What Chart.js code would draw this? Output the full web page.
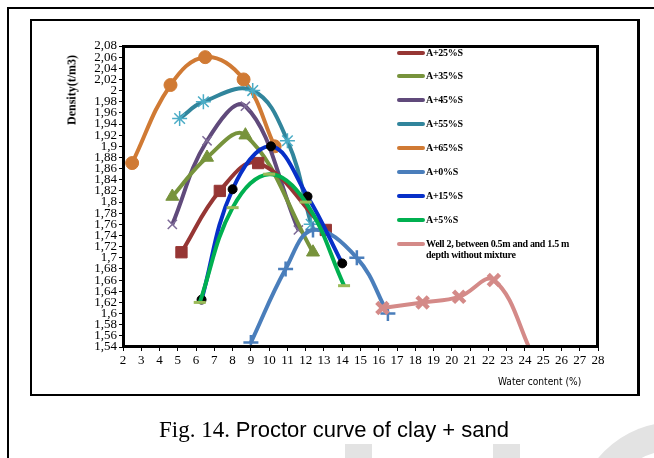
<!DOCTYPE html>
<html><head><meta charset="utf-8">
<script src="https://cdn.jsdelivr.net/npm/chart.js@4/dist/chart.umd.min.js"></script>
<style>
html,body{margin:0;padding:0;background:#fff;width:654px;height:458px;overflow:hidden;position:relative;font-family:'Liberation Serif',serif}
#c{position:absolute;left:0;top:0}
.abs{position:absolute}
#outer{left:7px;top:7px;width:660px;height:470px;border-left:2px solid #000;border-top:2px solid #000}
#box{left:30px;top:19px;width:605px;height:373px;border:2px solid #000;border-right:3px solid #000}
#frame{left:122px;top:45px;width:471px;height:297px;border:3px solid #000}
#ytitle{left:72px;top:90px;transform:translate(-50%,-50%) rotate(-90deg);font:bold 12px 'Liberation Serif',serif;white-space:nowrap}
#xtitle{left:498px;top:375px;font:11px 'DejaVu Sans Condensed','Liberation Sans',sans-serif;white-space:nowrap;transform:scaleX(0.92);transform-origin:left}
#legend{left:397px;top:45px;font:bold 10px 'Liberation Serif',serif;letter-spacing:-0.3px}
.li{position:absolute;left:0;white-space:nowrap;line-height:11px}
.sw{display:inline-block;width:28px;height:4px;border-radius:2px;vertical-align:middle;margin-right:1px;position:relative;top:-1px}
#cap{left:0;width:668px;top:417px;text-align:center;white-space:nowrap}
#cap .a{font:23px 'Liberation Serif',serif}
#cap .b{font:22px 'Liberation Sans',sans-serif}
.wm{background:#e3e3e3}
</style></head><body>
<div class="abs" id="outer"></div>
<div class="abs" id="box"></div>
<canvas id="c" width="654" height="458"></canvas>
<div class="abs" id="frame"></div>
<div class="abs" id="ytitle">Density(t/m3)</div>
<div class="abs" id="xtitle">Water content (%)</div>
<div class="abs" id="legend"></div>
<div class="abs" id="cap"><span class="a">Fig. 14. </span><span class="b">Proctor curve of clay + sand</span></div>
<div class="abs wm" style="left:345px;top:444px;width:27px;height:14px"></div>
<div class="abs wm" style="left:493px;top:444px;width:27px;height:14px"></div>
<div class="abs" style="left:575px;top:422px;width:200px;height:200px;border-radius:50%;border:28px solid #e3e3e3;box-sizing:border-box"></div>
<script>
// ---- data ----
const seriesNames = ['A+25%S','A+35%S','A+45%S','A+55%S','A+65%S','A+0%S','A+15%S','A+5%S','Well 2, between 0.5m and and 1.5 m depth without mixture'];
const water25 = [5.2, 7.3, 9.4, 13.1];
const dens25  = [1.71, 1.82, 1.87, 1.75];
const water35 = [4.7, 6.6, 8.7, 12.4];
const dens35  = [1.81, 1.88, 1.92, 1.71];
const water45 = [4.7, 6.6, 8.7, 11.6];
const dens45  = [1.76, 1.91, 1.972, 1.75];
const water55 = [5.1, 6.4, 9.1, 11.0, 12.3];
const dens55  = [1.95, 1.98, 2.0, 1.91, 1.76];
const water65 = [2.5, 4.6, 6.5, 8.6, 10.3];
const dens65  = [1.87, 2.01, 2.06, 2.02, 1.90];
const water0  = [9.0, 10.9, 12.4, 14.8, 16.5];
const dens0   = [1.548, 1.68, 1.75, 1.70, 1.60];
const water15 = [6.3, 8.0, 10.1, 12.1, 14.0];
const dens15  = [1.625, 1.823, 1.90, 1.81, 1.69];
const water5  = [6.2, 8.0, 10.0, 12.0, 14.1];
const dens5   = [1.62, 1.79, 1.85, 1.80, 1.65];
const waterWell = [16.2, 18.4, 20.4, 22.3, 24.5];
const densWell  = [1.61, 1.62, 1.63, 1.66, 1.52];
const xTicks = [2,3,4,5,6,7,8,9,10,11,12,13,14,15,16,17,18,19,20,21,22,23,24,25,26,27,28];
const yTicks = [1.54,1.56,1.58,1.6,1.62,1.64,1.66,1.68,1.7,1.72,1.74,1.76,1.78,1.8,1.82,1.84,1.86,1.88,1.9,1.92,1.94,1.96,1.98,2,2.02,2.04,2.06,2.08];

const allX = [water25,water35,water45,water55,water65,water0,water15,water5,waterWell];
const allY = [dens25,dens35,dens45,dens55,dens65,dens0,dens15,dens5,densWell];
const colors = ['#963634','#77933C','#604A7B','#31859C','#D07A34','#4A7EBB','#0730C8','#00B050','#D48A88'];
const markers = [
 {pointStyle:'rect',r:8,bg:'#963634',bc:'#963634',bw:1},
 {pointStyle:'triangle',r:7.5,bg:'#77933C',bc:'#77933C',bw:1},
 {pointStyle:'crossRot',r:6.5,bg:'#604A7B',bc:'#7D6A97',bw:1.5},
 {pointStyle:'star',r:7.5,bg:'#31859C',bc:'#4BACC6',bw:1.5},
 {pointStyle:'circle',r:6.5,bg:'#D07A34',bc:'#D07A34',bw:1},
 {pointStyle:'cross',r:7.5,bg:'#4A7EBB',bc:'#4A7EBB',bw:2.5},
 {pointStyle:'circle',r:4.5,bg:'#000',bc:'#000',bw:1},
 {pointStyle:'line',r:6,bg:'#9BBB59',bc:'#9BBB59',bw:3},
 {pointStyle:'crossRot',r:8,bg:'#D48A88',bc:'#D48A88',bw:4.5}
];
const drawOrder = [5,6,7,8,9,4,2,1,3]; // higher = drawn first (below)

const datasets = seriesNames.map((n,i)=>({
  label:n,
  data: allX[i].map((x,j)=>({x:x,y:allY[i][j]})),
  borderColor:colors[i], borderWidth:4, tension:0.4,
  showLine:true, fill:false,
  pointStyle:markers[i].pointStyle, pointRadius:markers[i].r,
  pointBackgroundColor:markers[i].bg, pointBorderColor:markers[i].bc,
  pointBorderWidth:markers[i].bw, order:drawOrder[i]
}));

// legend
const lg = document.getElementById('legend');
const legendTops = [2,25,49,73,97,121,145,169,193];
seriesNames.forEach((n,i)=>{
  const d = document.createElement('div'); d.className='li'; d.style.top=legendTops[i]+'px';
  if(i===8){
    d.innerHTML='<span class="sw" style="background:'+colors[i]+'"></span>Well 2, between 0.5m and and 1.5 m<br><span style="display:inline-block;width:29px"></span>depth without mixture';
  } else {
    d.innerHTML='<span class="sw" style="background:'+colors[i]+'"></span>'+n;
  }
  lg.appendChild(d);
});

const fmt = v => { let s=(Math.round(v*100)/100).toFixed(2).replace(/0+$/,'').replace(/\.$/,''); return s.replace('.',','); };

new Chart(document.getElementById('c'),{
  type:'scatter',
  data:{datasets},
  options:{
    responsive:false, animation:false, devicePixelRatio:1,
    layout:{padding:{left:73,top:46,right:56,bottom:71}},
    plugins:{legend:{display:false},tooltip:{enabled:false}},
    scales:{
      x:{type:'linear',min:2,max:28,
        afterBuildTicks:s=>{s.ticks=xTicks.map(v=>({value:v}));},
        afterFit:s=>{s.height=40;},
        grid:{drawOnChartArea:false,drawTicks:true,tickLength:4,color:'#000',lineWidth:1},
        border:{display:false},
        ticks:{color:'#000',font:{family:'Liberation Serif',size:13},padding:2,maxRotation:0,autoSkip:false}
      },
      y:{type:'linear',min:1.54,max:2.08,
        afterBuildTicks:s=>{s.ticks=yTicks.map(v=>({value:v}));},
        afterFit:s=>{s.width=50;},
        grid:{drawOnChartArea:false,drawTicks:true,tickLength:4,color:'#000',lineWidth:1},
        border:{display:false},
        ticks:{color:'#000',font:{family:'Liberation Serif',size:13,lineHeight:1},padding:2,autoSkip:false,callback:v=>fmt(v)}
      }
    }
  }
});
</script>
</body></html>
